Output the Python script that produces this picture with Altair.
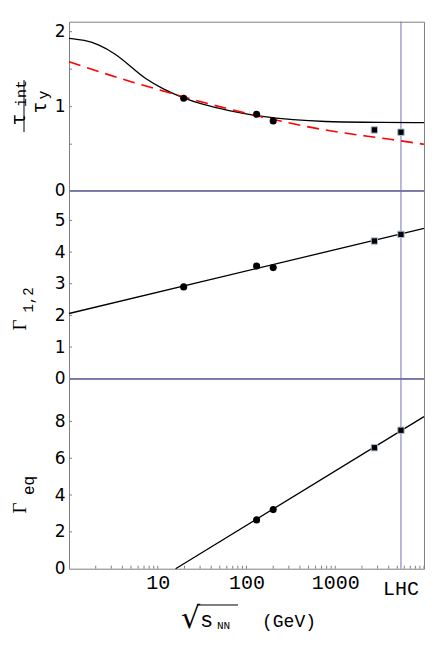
import altair as alt
import pandas as pd

# ---------------- data ----------------
X_DOMAIN = [1, 10000]
LHC = 5500

# panel 1 : tau_int / tau_y
tau_curve_x = [1, 1.5, 2.1, 3.3, 5, 7.2, 11.5, 19, 31, 62, 145, 335, 775, 1800, 10000]
tau_curve_y = [1.912, 1.889, 1.836, 1.712, 1.533, 1.37, 1.235, 1.12, 1.032, 0.947, 0.867, 0.823, 0.80, 0.792, 0.787]
tau_dash_x = [1, 5, 11.5, 26, 145, 775, 4150, 10000]
tau_dash_y = [1.6, 1.333, 1.209, 1.089, 0.867, 0.689, 0.565, 0.499]
circle_x = [19.6, 130, 200]
square_x = [2760, 5500]
tau_circle_y = [1.112, 0.90, 0.81]
tau_square_y = [0.69, 0.66]

# panel 2 : Gamma_{1,2}
g12_line_x = [1, 10000]
g12_line_y = [2.06, 4.75]
g12_circle_y = [2.90, 3.56, 3.51]
g12_square_y = [4.35, 4.56]

# panel 3 : Gamma_eq
geq_line_x = [15.9, 10000]
geq_line_y = [0, 8.26]
geq_circle_x = [130, 200]
geq_circle_y = [2.65, 3.21]
geq_square_y = [6.57, 7.52]

# axes
y1_ticks = [-0.12, 1, 2]
y1_minor = [0.5, 1, 1.5, 2]
y2_ticks = [0, 1, 2, 3, 4, 5]
y3_ticks = [0, 2, 4, 6, 8]
x_tick_labels = [10, 100, 1000]
x_minor = [m * d for d in (1, 10, 100, 1000) for m in range(2, 11)]

# ---------------- styling ----------------
W = 355
H1, H2, H3 = 169, 188, 190
BLUE = "#7070c0"
FRAME = "#808080"
MONO = "Liberation Mono"

dummy = pd.DataFrame({"k": [0]})
xs = alt.Scale(type="log", domain=X_DOMAIN, nice=False)


def yaxis(values, expr=None):
    kw = dict(values=values, title=None, grid=False, ticks=False, domain=False,
              labelFont="DejaVu Sans", labelFontSize=17, labelColor="black",
              labelPadding=4)
    if expr:
        kw["labelExpr"] = expr
    else:
        kw["format"] = "d"
    return alt.Axis(**kw)


def txt(t, x, y, size, font=MONO, angle=0, align="center", baseline="middle"):
    kw = dict(text=t, font=font, fontSize=size, align=align, baseline=baseline, color="black")
    if angle:
        kw["angle"] = angle
    return alt.Chart(dummy).mark_text(**kw).encode(x=alt.value(x), y=alt.value(y))


def panel(h, ysc, yax, xax, curves, circ_x, circ_y, sq_y, yminor, extra):
    X = lambda: alt.X("x:Q", scale=xs, axis=xax)
    Y = lambda: alt.Y("y:Q", scale=ysc, axis=yax)
    layers = []
    layers.append(alt.Chart(pd.DataFrame({"x": [LHC]})).mark_rule(color=BLUE, strokeWidth=1).encode(x=X()))
    layers.append(alt.Chart(pd.DataFrame({"y": yminor})).mark_rule(color=FRAME, strokeWidth=1).encode(
        y=Y(), x=alt.value(0), x2=alt.value(3)))
    for cx, cy, style in curves:
        mk = dict(color="black", strokeWidth=1.3, interpolate="basis")
        if style == "dash":
            mk = dict(color="#ff0000", strokeWidth=1.6, strokeDash=[12, 7], interpolate="monotone")
        layers.append(alt.Chart(pd.DataFrame({"x": cx, "y": cy})).mark_line(**mk).encode(x=X(), y=Y()))
    layers.append(alt.Chart(pd.DataFrame({"x": circ_x, "y": circ_y})).mark_point(
        shape="circle", filled=True, size=50, color="black", opacity=1).encode(x=X(), y=Y()))
    layers.append(alt.Chart(pd.DataFrame({"x": square_x, "y": sq_y})).mark_point(
        shape="square", filled=True, size=40, fill="black", stroke="#a9bdd2", strokeWidth=1,
        opacity=1).encode(x=X(), y=Y()))
    layers += extra(X, Y)
    return alt.layer(*layers).properties(width=W, height=h)


# ---------- panel 1 ----------
ys1 = alt.Scale(domain=[-0.12, 2.133], nice=False, zero=False)
ax1 = yaxis(y1_ticks, "datum.value < 0 ? '0' : format(datum.value, 'd')")


def extra1(X, Y):
    return [
        # white left anchor (fixes the left extent of the drawing)
        alt.Chart(dummy).mark_rule(color="white", strokeWidth=1).encode(
            x=alt.value(-60), y=alt.value(60), y2=alt.value(61)),
        alt.Chart(dummy).mark_rule(color=BLUE, strokeWidth=1).encode(
            x=alt.value(0), x2=alt.value(W), y=alt.value(H1)),
        txt("τ", -50.5, 97.8, 20, angle=270),
        txt("int", -48.5, 71.8, 15, angle=270),
        alt.Chart(dummy).mark_rule(color="black", strokeWidth=1).encode(
            x=alt.value(-45), y=alt.value(58.3), y2=alt.value(110.3)),
        txt("τ", -29.5, 85.8, 20, angle=270),
        txt("y", -26.5, 73.3, 15, angle=270),
    ]


p1 = panel(H1, ys1, ax1, None,
           [(tau_curve_x, tau_curve_y, "solid"), (tau_dash_x, tau_dash_y, "dash")],
           circle_x, tau_circle_y, tau_square_y, y1_minor, extra1)

# ---------- panel 2 ----------
ys2 = alt.Scale(domain=[0, 5.94], nice=False, zero=False)
ax2 = yaxis(y2_ticks)


def extra2(X, Y):
    return [
        alt.Chart(dummy).mark_rule(color=BLUE, strokeWidth=1).encode(
            x=alt.value(0), x2=alt.value(W), y=alt.value(0)),
        alt.Chart(pd.DataFrame({"y": [0]})).mark_rule(color=BLUE, strokeWidth=1).encode(y=Y()),
        txt("Γ", -49.5, 134.3, 19, font="Liberation Serif", angle=270),
        txt("1,2", -40, 109.3, 14, angle=270),
    ]


p2 = panel(H2, ys2, ax2, None, [(g12_line_x, g12_line_y, "solid")],
           circle_x, g12_circle_y, g12_square_y, y2_ticks[1:], extra2)

# ---------- panel 3 ----------
ys3 = alt.Scale(domain=[0, 10.32], nice=False, zero=False)
ax3 = yaxis(y3_ticks)
axx = alt.Axis(values=x_tick_labels, format="d", title=None, grid=False, ticks=False, domain=False,
               labelFont=MONO, labelFontSize=20, labelColor="black", labelPadding=4, labelFlush=False)


def extra3(X, Y):
    return [
        alt.Chart(dummy).mark_rule(color=BLUE, strokeWidth=1).encode(
            x=alt.value(0), x2=alt.value(W), y=alt.value(0)),
        alt.Chart(pd.DataFrame({"x": x_minor})).mark_rule(color=FRAME, strokeWidth=1).encode(
            x=X(), y=alt.value(H3 - 3), y2=alt.value(H3)),
        alt.Chart(pd.DataFrame({"x": [LHC]})).mark_text(
            text="LHC", font=MONO, fontSize=20, align="center", baseline="alphabetic", color="black").encode(
            x=X(), y=alt.value(216.8)),
        txt("Γ", -49.5, 129.3, 19, font="Liberation Serif", angle=270),
        txt("eq", -40.5, 106.8, 16, angle=270),
        txt("√", 112, 249.5, 30, font="DejaVu Sans", align="left", baseline="alphabetic"),
        alt.Chart(dummy).mark_rule(color="black", strokeWidth=1).encode(
            x=alt.value(128), x2=alt.value(169), y=alt.value(226.3)),
        txt("s", 131, 248.3, 22, align="left", baseline="alphabetic"),
        txt("NN", 148, 250.3, 11, align="left", baseline="alphabetic"),
        txt("(GeV)", 193, 248.3, 18, align="left", baseline="alphabetic"),
    ]


p3 = panel(H3, ys3, ax3, axx, [(geq_line_x, geq_line_y, "solid")],
           geq_circle_x, geq_circle_y, geq_square_y, y3_ticks[1:], extra3)

chart = alt.vconcat(p1, p2, p3, spacing=0, bounds="flush").properties(
    padding={"left": 0, "top": 12.7, "right": 0, "bottom": 3}
).configure_view(stroke=FRAME, strokeWidth=1)

chart.save("out.html", embed_options={"renderer": "svg", "actions": False})
